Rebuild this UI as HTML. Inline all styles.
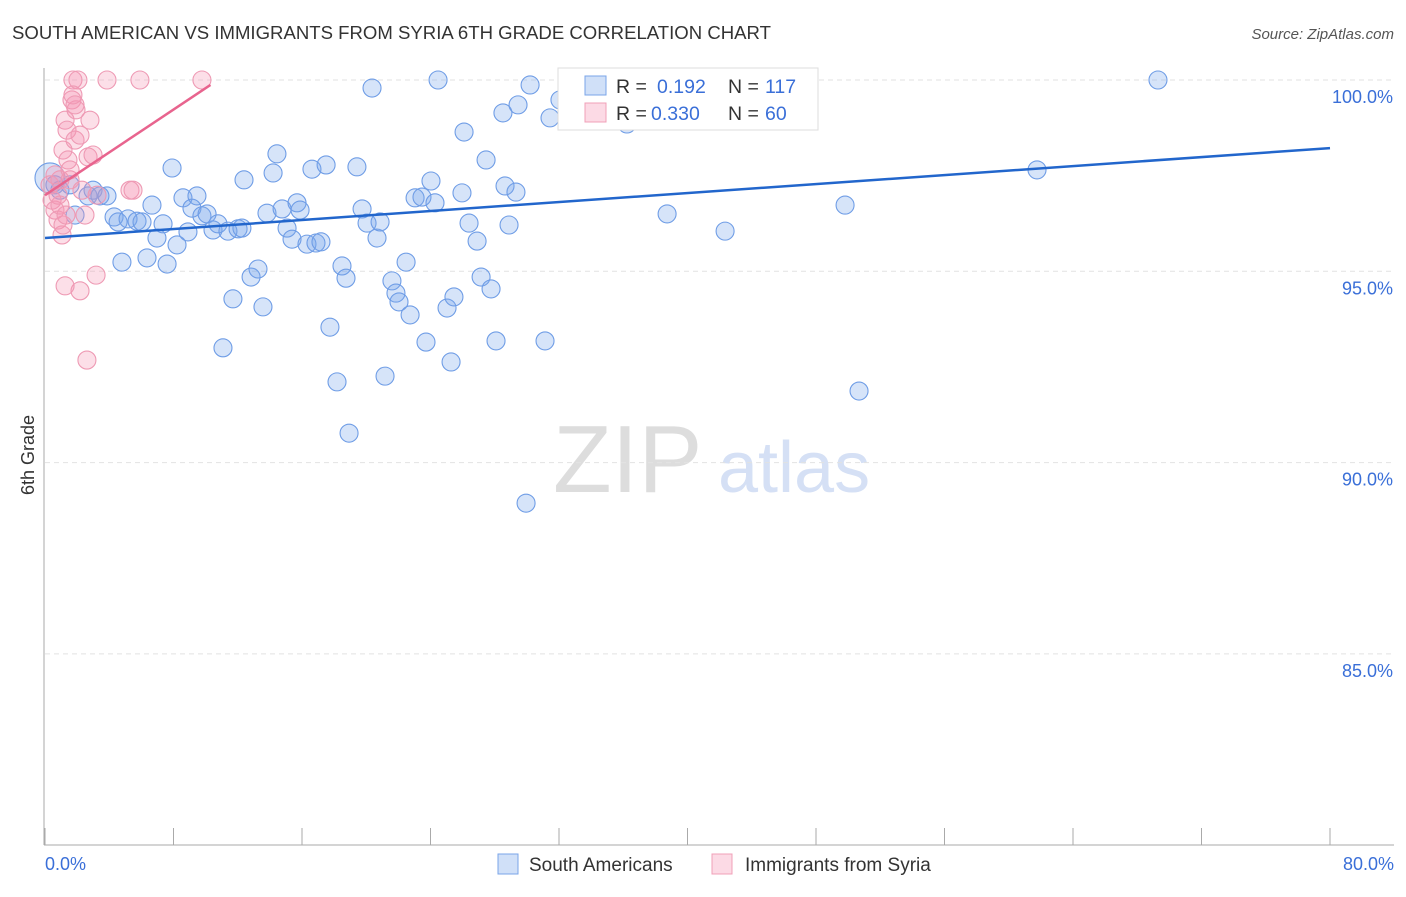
<!DOCTYPE html>
<html><head><meta charset="utf-8"><style>
body{margin:0;background:#fff;font-family:"Liberation Sans",sans-serif;}
svg text{font-family:"Liberation Sans",sans-serif;}
</style></head><body>
<svg width="1406" height="892" id="chart">
<text x="12" y="39" font-size="18.6" fill="#333" textLength="759" lengthAdjust="spacingAndGlyphs">SOUTH AMERICAN VS IMMIGRANTS FROM SYRIA 6TH GRADE CORRELATION CHART</text>
<text x="1394" y="39" font-size="15" fill="#555" font-style="italic" text-anchor="end">Source: ZipAtlas.com</text>
<text x="0" y="0" font-size="18" fill="#333" transform="translate(34,455) rotate(-90)" text-anchor="middle">6th Grade</text>
<g><text x="553" y="492" font-size="96" font-family="Liberation Serif" fill="#ddd">ZIP</text><text x="718" y="492" font-size="72" fill="#d5e0f5">atlas</text></g>
<g id="grid"></g><g id="axes"></g><g id="pts"></g><g id="trend"></g>
<g>
<rect x="558" y="68" width="260" height="62" fill="#fff" stroke="#ddd"/>
<rect x="585" y="76" width="21" height="19" fill="rgba(120,165,235,0.35)" stroke="#7aa5e8"/>
<rect x="585" y="103" width="21" height="19" fill="rgba(245,150,180,0.35)" stroke="#f0a0b8"/>
<text x="616" y="93" font-size="19.5" fill="#333">R =</text><text x="657" y="93" font-size="19.5" fill="#3a6fd8">0.192</text>
<text x="728" y="93" font-size="19.5" fill="#333">N =</text><text x="765" y="93" font-size="19.5" fill="#3a6fd8">117</text>
<text x="616" y="120" font-size="19.5" fill="#333">R =</text><text x="651" y="120" font-size="19.5" fill="#3a6fd8">0.330</text>
<text x="728" y="120" font-size="19.5" fill="#333">N =</text><text x="765" y="120" font-size="19.5" fill="#3a6fd8">60</text>
</g>
<g>
<rect x="498" y="854" width="20" height="20" fill="rgba(120,165,235,0.35)" stroke="#7aa5e8"/>
<text x="529" y="871" font-size="19" fill="#333">South Americans</text>
<rect x="712" y="854" width="20" height="20" fill="rgba(245,150,180,0.35)" stroke="#f0a0b8"/>
<text x="745" y="871" font-size="19" fill="#333">Immigrants from Syria</text>
</g>
</svg>
<script>
const blueX=[0.31,0.62,0.93,1.56,1.87,2.68,2.99,3.42,3.86,4.30,4.55,4.79,5.17,5.73,6.04,6.35,6.66,6.97,7.35,7.60,7.91,8.22,8.59,8.90,9.15,9.46,9.77,10.09,10.46,10.77,11.08,11.39,11.70,12.02,12.26,12.39,12.83,13.26,13.57,13.82,14.20,14.44,14.76,15.07,15.38,15.69,15.88,16.31,16.62,16.87,17.18,17.50,17.74,18.18,18.49,18.74,18.93,19.42,19.74,20.05,20.36,20.67,20.86,21.17,21.60,21.85,22.04,22.48,22.73,23.04,23.47,23.72,24.03,24.28,24.47,25.03,25.28,25.46,25.96,26.09,26.40,26.90,27.15,27.46,27.77,28.08,28.51,28.64,28.89,29.32,29.45,29.95,30.20,31.13,31.44,32.06,32.56,36.23,38.73,39.29,40.59,42.34,49.81,50.68,61.76,69.29];
const blueY=[97.44,97.26,97.12,97.26,96.47,96.97,97.12,96.97,96.97,96.42,96.29,95.24,96.37,96.31,96.29,95.35,96.73,95.87,96.24,95.19,97.70,95.69,96.92,96.03,96.65,96.97,96.45,96.50,96.08,96.24,93.00,96.05,94.28,96.11,96.13,97.39,94.85,95.06,94.07,96.52,97.57,98.07,96.63,96.13,95.84,96.79,96.60,95.71,97.67,95.74,95.77,97.78,93.54,92.11,95.14,94.82,90.77,97.73,96.63,96.26,99.79,95.87,96.29,92.26,94.75,94.43,94.20,95.24,93.86,96.92,96.94,93.15,97.36,96.79,100,94.04,92.63,94.33,97.05,98.64,96.26,95.79,94.85,97.91,94.54,93.18,99.14,97.23,96.21,97.07,99.35,88.94,99.87,93.18,99.01,99.48,100,98.85,96.50,99.92,99.06,96.05,96.73,91.87,97.65,100];
const pinkX=[0.31,0.44,0.62,0.81,0.93,1.06,1.12,1.25,1.37,1.43,1.56,1.68,1.74,1.87,1.93,2.05,2.18,2.30,2.49,2.61,2.68,2.80,2.99,3.18,3.24,2.18,1.25,3.86,5.29,5.48,5.91,9.77,0.62,0.81,0.93,1.12,1.31,1.56,1.74,1.87];
const pinkY=[97.26,96.86,96.60,96.34,97.39,95.95,98.17,98.95,98.69,97.91,97.39,99.48,100,98.43,99.22,100,98.56,97.12,96.47,92.68,97.99,98.95,98.04,94.90,96.99,94.49,94.62,100,97.12,97.12,100,100,97.52,96.99,96.73,96.21,96.47,97.65,99.61,99.35];
const blueTrend=[[0,95.87],[80,98.22]];
const pinkTrend=[[0,96.99],[10.3,99.87]];
const yTicks=[100,95,90,85];
const xTicks=[0,8,16,24,32,40,48,56,64,72,80];
const NS='http://www.w3.org/2000/svg';
const xs=v=>45+v/80*1285;
const ys=v=>80+(100-v)*38.26;
function mk(t,a,p){const e=document.createElementNS(NS,t);for(const k in a)e.setAttribute(k,a[k]);document.getElementById(p).appendChild(e);return e;}
yTicks.forEach(v=>{
 const l=mk('line',{x1:45,x2:1394,y1:ys(v),y2:ys(v),stroke:'#e2e2e2','stroke-dasharray':'5,4'},'grid');
 
 
 const t=mk('text',{x:1393,y:ys(v)+23,'font-size':18,fill:'#3a6fd8','text-anchor':'end'},'grid');
 t.textContent=v.toFixed(1)+'%';
 
 
});
mk('line',{x1:44,x2:44,y1:68,y2:845,stroke:'#aaa'},'axes');
mk('line',{x1:44,x2:1394,y1:845,y2:845,stroke:'#aaa'},'axes');
xTicks.forEach(v=>{
 const l=mk('line',{x1:xs(v),x2:xs(v),y1:828,y2:845,stroke:'#aaa'},'axes');
 
 
});
[[0,'start',45],[80,'end',1394]].forEach(([v,a,x])=>{
 const t=mk('text',{x:x,y:870,'font-size':18,fill:'#3a6fd8','text-anchor':a},'axes');
 t.textContent=v.toFixed(1)+'%';
 
 
});
blueX.forEach((x,i)=>{
 const c=mk('circle',{cx:xs(x),cy:ys(blueY[i]),r:i===0?15:9,fill:'rgba(120,165,235,0.3)',stroke:'#6f9de6','stroke-width':1.1},'pts');
 
 
});
pinkX.forEach((x,i)=>{
 const c=mk('circle',{cx:xs(x),cy:ys(pinkY[i]),r:9,fill:'rgba(245,150,180,0.3)',stroke:'#ee9ab4','stroke-width':1.1},'pts');
 
 
});
const b=mk('line',{x1:xs(blueTrend[0][0]),y1:ys(blueTrend[0][1]),x2:xs(blueTrend[1][0]),y2:ys(blueTrend[1][1]),stroke:'#2266cc','stroke-width':2.5},'trend');


const p=mk('line',{x1:xs(pinkTrend[0][0]),y1:ys(pinkTrend[0][1]),x2:xs(pinkTrend[1][0]),y2:ys(pinkTrend[1][1]),stroke:'#e8648e','stroke-width':2.5},'trend');


</script>
</body></html>
